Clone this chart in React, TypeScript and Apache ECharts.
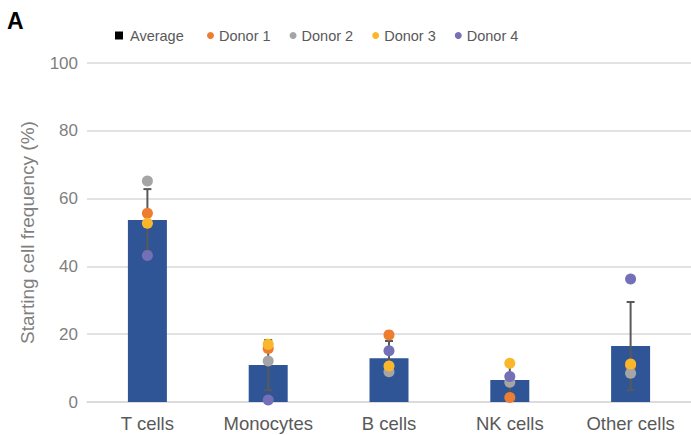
import React, { useEffect, useRef } from "react";
import * as echarts from "echarts";

const categories = ["T cells", "Monocytes", "B cells", "NK cells", "Other cells"];
const average = [53.7, 10.9, 12.9, 6.5, 16.5];
const errorSD = [9.1, 7.4, 5.1, 4.2, 13.0];
const donor1 = [55.7, 15.8, 19.8, 1.3, 10.8];
const donor2 = [65.2, 12.1, 8.9, 5.8, 8.5];
const donor3 = [52.7, 17.0, 10.6, 11.4, 11.2];
const donor4 = [43.2, 0.6, 15.1, 7.5, 36.3];
const yTicks = [0, 20, 40, 60, 80, 100];
const donorNames = ["Donor 1", "Donor 2", "Donor 3", "Donor 4"];

const FONT = "Liberation Sans";

export default function App() {
  const ref = useRef<HTMLDivElement>(null);
  useEffect(() => {
    if (!ref.current) return;
    const chart = echarts.init(ref.current, null, { renderer: "svg" });
    const errData = categories.map((_, i) => [i, average[i] - errorSD[i], average[i] + errorSD[i]]);
    const dot = (name: string, data: number[], color: string) => ({
      name,
      type: "scatter",
      data,
      symbol: "circle",
      symbolSize: 11,
      itemStyle: { color, opacity: 1 },
      z: 5,
    });
    const legendText = { fontSize: 14.5, color: "#595959", fontFamily: FONT };
    chart.setOption({
      animation: false,
      textStyle: { fontFamily: FONT },
      graphic: [
        {
          type: "text",
          left: 7,
          top: 9,
          style: { text: "A", fontSize: 23, fontWeight: 900, fill: "#000", fontFamily: FONT },
        },
      ],
      legend: [
        {
          left: 110,
          top: 23,
          itemWidth: 8,
          itemHeight: 8,
          textStyle: { ...legendText, padding: [0, 0, 0, 2] },
          data: [{ name: "Average", icon: "rect", itemStyle: { color: "#000" } }],
        },
        {
          left: 202,
          top: 23,
          itemWidth: 7,
          itemHeight: 7,
          itemGap: 19,
          textStyle: { ...legendText, padding: [0, 0, 0, 0] },
          data: donorNames.map((n) => ({ name: n, icon: "circle" })),
        },
      ],
      grid: { left: 87, right: -5, top: 63, bottom: 33, containLabel: false },
      xAxis: {
        type: "category",
        data: categories,
        axisLine: { show: true, lineStyle: { color: "#d9d9d9", width: 1.5 } },
        axisTick: { show: false },
        axisLabel: { fontSize: 18.5, color: "#595959", margin: 12, fontFamily: FONT },
      },
      yAxis: {
        type: "value",
        min: yTicks[0],
        max: yTicks[yTicks.length - 1],
        interval: 20,
        name: "Starting cell frequency (%)",
        nameLocation: "middle",
        nameGap: 50,
        nameTextStyle: { fontSize: 19, color: "#7f7f7f", fontFamily: FONT },
        axisLine: { show: false },
        axisTick: { show: false },
        axisLabel: { fontSize: 17, color: "#7f7f7f", margin: 9, fontFamily: FONT },
        splitLine: { lineStyle: { color: "#d9d9d9", width: 1.5 } },
      },
      series: [
        {
          name: "Average",
          type: "bar",
          data: average,
          barWidth: 39,
          itemStyle: { color: "#2F5597" },
          z: 2,
        },
        {
          name: "SD",
          type: "custom",
          data: errData,
          z: 3,
          renderItem: (params: any, api: any) => {
            const x = api.value(0);
            const lo = api.coord([x, api.value(1)]);
            const hi = api.coord([x, api.value(2)]);
            const hw = 4;
            const style = { stroke: "#595959", lineWidth: 2 };
            return {
              type: "group",
              children: [
                { type: "line", shape: { x1: lo[0], y1: lo[1], x2: hi[0], y2: hi[1] }, style },
                { type: "line", shape: { x1: hi[0] - hw, y1: hi[1], x2: hi[0] + hw, y2: hi[1] }, style },
                { type: "line", shape: { x1: lo[0] - hw, y1: lo[1], x2: lo[0] + hw, y2: lo[1] }, style },
              ],
            };
          },
        },
        dot(donorNames[0], donor1, "#ED7D31"),
        dot(donorNames[1], donor2, "#A5A5A5"),
        dot(donorNames[2], donor3, "#FBB72C"),
        dot(donorNames[3], donor4, "#7470B8"),
      ],
    });
    return () => chart.dispose();
  }, []);
  return (
    <div
      ref={ref}
      style={{ position: "fixed", left: 0, top: 0, width: 691, height: 435, background: "#fff" }}
    />
  );
}
